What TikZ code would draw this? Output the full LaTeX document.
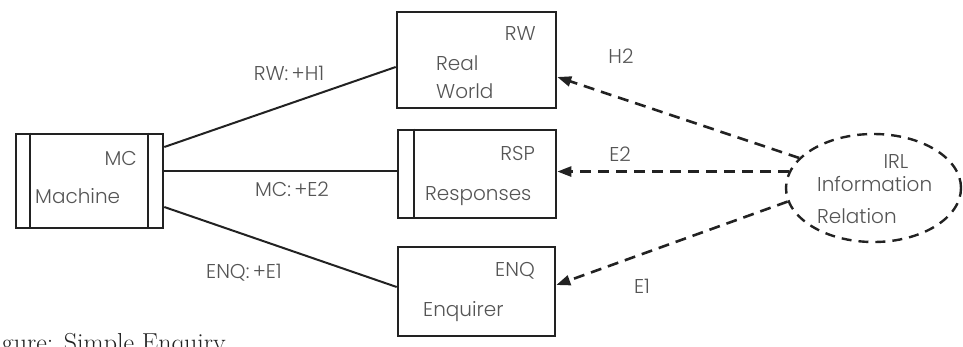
\documentclass[tikz,border=0pt]{standalone}
\usepackage{fontspec}
\newfontfamily\geo{Poppins Light}
\usetikzlibrary{arrows.meta,shapes.geometric}
\definecolor{ink}{HTML}{222222}
\definecolor{txt}{HTML}{555555}
\tikzset{
  unit/.style={draw=ink,line width=2.6pt,minimum width=#1,inner sep=0pt},
  lbl/.style={text=txt,font=\geo\fontsize{20}{24}\selectfont,inner sep=0pt},
  link/.style={draw=ink,line width=2pt},
  info/.style={draw=ink,line width=2.6pt,dash pattern=on 11pt off 7pt,
    -{Triangle[length=14pt,width=10pt]}},
}
\begin{document}
\begin{tikzpicture}[x=1pt,y=-1pt]
\useasboundingbox (0,0) rectangle (963,346);
\clip (0,0) rectangle (963,346);

% boxes
\node[unit=147pt,minimum height=94pt] (mc) at (89.5,181) {};
\draw[draw=ink,line width=2.2pt] (30,0 |- mc.north) -- (30,0 |- mc.south)
      (148,0 |- mc.north) -- (148,0 |- mc.south);
\node[unit=159pt,minimum height=96pt] (rw) at (476.5,60) {};
\node[unit=158pt,minimum height=88pt] (rsp) at (477,174) {};
\draw[draw=ink,line width=2.2pt] (414,0 |- rsp.north) -- (414,0 |- rsp.south);
\node[unit=157pt,minimum height=89pt] (enq) at (476.5,291.5) {};
\node[ellipse,draw=ink,line width=2.4pt,dash pattern=on 10pt off 7pt,
      minimum width=175pt,minimum height=108pt,inner sep=0pt] (irl) at (873.5,188) {};

% box texts
\node[lbl,anchor=base east] (mct) at (137,165) {MC};
\node[lbl,anchor=base west] (mcn) at (35,203) {Machine};
\node[lbl,anchor=base east] (rwt) at (536,40) {RW};
\node[lbl,anchor=base west] (rwn1) at (436,70) {Real};
\node[lbl,anchor=base west] (rwn2) at (436,98) {World};
\node[lbl,anchor=base east] (rspt) at (535,160) {RSP};
\node[lbl,anchor=base west] (rspn) at (425,200) {Responses};
\node[lbl,anchor=base east] (enqt) at (535,276) {ENQ};
\node[lbl,anchor=base west] (enqn) at (423,316) {Enquirer};
\node[lbl,anchor=base] (irlt) at (896,168) {IRL};
\node[lbl,anchor=base west] (irln1) at (817,191) {Information};
\node[lbl,anchor=base west] (irln2) at (817,223) {Relation};

% connectors from the machine
\draw[link] ([yshift=34pt]mc.east) -- ([yshift=-7pt]rw.west);
\draw[link] ([yshift=10pt]mc.east) -- ([yshift=10pt]mc.east -| rsp.west);
\draw[link] ([yshift=-26pt]mc.east) -- ([yshift=4.5pt]enq.west);

\node[lbl,anchor=base] (l1) at (289,80) {RW:\,+H1};
\node[lbl,anchor=base] (l2) at (292,196) {MC:\,+E2};
\node[lbl,anchor=base] (l3) at (244,278) {ENQ:\,+E1};

% information relation arrows
\draw[info] (irl.158) -- ([yshift=-17pt]rw.east);
\draw[info] (irl.169) -- (irl.169 -| rsp.east);
\draw[info] (irl.189) -- ([yshift=6.5pt]enq.east);

\node[lbl,anchor=base] (h2) at (621,63) {H2};
\node[lbl,anchor=base] (e2) at (620,161) {E2};
\node[lbl,anchor=base] (e1) at (642,293) {E1};

% caption, cut by the page edge
\node[anchor=base east,text=ink,font=\fontsize{26}{30}\selectfont,inner sep=0pt]
  (cap) at (226,351) {Figure: Simple Enquiry};
\end{tikzpicture}
\end{document}
